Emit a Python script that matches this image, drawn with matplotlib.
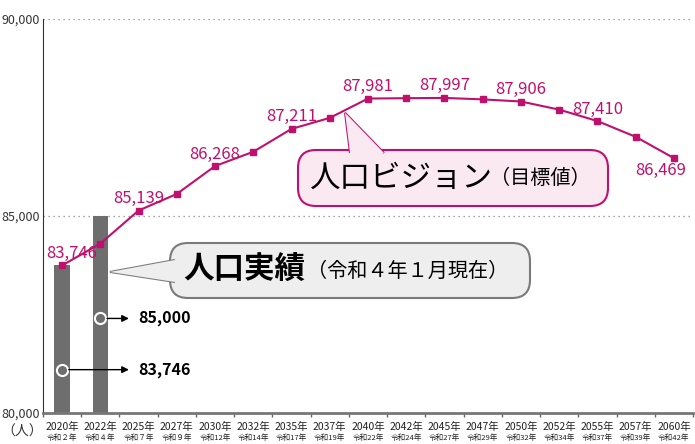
import numpy as np
import matplotlib.pyplot as plt
from matplotlib.patches import FancyBboxPatch, Polygon
from matplotlib.transforms import Affine2D

plt.rcParams['font.family'] = ['Noto Sans CJK JP', 'DejaVu Sans']

# data
years = ["2020年", "2022年", "2025年", "2027年", "2030年", "2032年", "2035年", "2037年", "2040年",
         "2042年", "2045年", "2047年", "2050年", "2052年", "2055年", "2057年", "2060年"]
reiwa = ["令和２年", "令和４年", "令和７年", "令和９年", "令和12年", "令和14年", "令和17年", "令和19年",
         "令和22年", "令和24年", "令和27年", "令和29年", "令和32年", "令和34年", "令和37年", "令和39年", "令和42年"]
vision = [83746, 84300, 85139, 85560, 86268, 86630, 87211, 87490, 87981,
          87990, 87997, 87960, 87906, 87700, 87410, 87010, 86469]
labeled = [0, 2, 4, 6, 8, 10, 12, 14, 16]
actual = [83746, 85000]

W, H = 695, 444
MAG = "#c0106e"

fig = plt.figure(figsize=(W / 100, H / 100), dpi=100)
ax = fig.add_axes([43 / W, 31 / H, 650 / W, 394 / H])
x = np.arange(len(years))

ax.bar(x[:2], actual, width=0.4, color="#6e6e6e", zorder=2)
ax.plot(x, vision, color=MAG, lw=1.5, marker="s", ms=4.5, zorder=3)

for i in labeled:
    if i == 16:
        ax.text(x[i] - 0.35, vision[i] - 90, f"{vision[i]:,}", color=MAG, fontsize=12,
                ha="center", va="top", zorder=4)
    else:
        dx = 0.25 if i == 0 else 0
        ax.text(x[i] + dx, vision[i] + 90, f"{vision[i]:,}", color=MAG, fontsize=12,
                ha="center", va="bottom", zorder=4)

ax.set_xlim(-0.5, len(years) - 0.5)
ax.set_ylim(80000, 90000)
ax.set_yticks([80000, 85000, 90000])
ax.set_yticklabels([f"{v:,}" for v in [80000, 85000, 90000]], fontsize=9, color="#333333")
ax.tick_params(axis="y", length=0, pad=2)
for v in [85000, 90000]:
    ax.axhline(v, color="#888888", lw=0.9, ls=(0, (1, 3)), zorder=1)

ax.set_xticks(np.arange(len(years) + 1) - 0.5)
ax.set_xticklabels([])
ax.tick_params(axis="x", length=3, width=1, color="#666666")
for s in ["top", "right"]:
    ax.spines[s].set_visible(False)
ax.spines["left"].set_color("#333333")
ax.spines["bottom"].set_color("#777777")
ax.spines["bottom"].set_linewidth(2)

for i in range(len(years)):
    ax.text(x[i], -0.035, years[i], transform=ax.get_xaxis_transform(), ha="center", va="center",
            fontsize=7.5, color="#222222")
    ax.text(x[i], -0.064, reiwa[i], transform=ax.get_xaxis_transform(), ha="center", va="center",
            fontsize=5.5, color="#222222")
fig.text(22 / W, 1 - 432 / H, "（人）", ha="center", va="center", fontsize=10, color="#333333")

# circles + arrows for actual values
for i, v in enumerate(actual):
    cy = 81100 if i == 0 else 82400
    ax.plot(x[i], cy, "o", ms=8, mfc="#6e6e6e", mec="white", mew=1.5, zorder=5)
    ax.annotate("", xy=(1.82, cy), xytext=(x[i] + 0.1, cy),
                arrowprops=dict(arrowstyle="-|>", color="black", lw=1, mutation_scale=10), zorder=5)
    ax.text(1.98, cy, f"{v:,}", fontsize=11.5, fontweight="bold", ha="left", va="center")

# callouts in pixel coordinates (origin top-left)
px = Affine2D().scale(1, -1).translate(0, H)


def callout(x0, y0, x1, y1, base, tip, fc, ec):
    box = FancyBboxPatch((x0, y0), x1 - x0, y1 - y0, boxstyle="round,pad=0,rounding_size=18",
                         fc=fc, ec=ec, lw=1.5, transform=px, zorder=6)
    fig.add_artist(box)
    tri = Polygon([base[0], tip, base[1]], closed=False, fc=fc, ec=ec, lw=1.5,
                  transform=px, zorder=7)
    fig.add_artist(tri)
    cover = Polygon([base[0], tip, base[1]], closed=True, fc=fc, ec="none",
                    transform=px, zorder=8)
    fig.add_artist(cover)


tx, ty = ax.transData.transform((1.25, 83580))
callout(170, 243, 530, 298, [(175, 260), (175, 282)], (tx, H - ty), "#eeeeee", "#7a7a7a")
tx, ty = ax.transData.transform((7.4, 87620))
callout(298, 150, 608, 206, [(350, 153), (384, 153)], (tx, H - ty), "#fbe9f1", MAG)

fig.text(183 / W, 1 - 270 / H, "人口実績", fontsize=22, fontweight="bold", ha="left", va="center", zorder=9)
fig.text(307 / W, 1 - 271 / H, "（令和４年１月現在）", fontsize=14.5, ha="left", va="center", zorder=9)
fig.text(310 / W, 1 - 178 / H, "人口ビジョン", fontsize=22, ha="left", va="center", zorder=9)
fig.text(490 / W, 1 - 179 / H, "（目標値）", fontsize=14.5, ha="left", va="center", zorder=9)

fig.savefig("out.png", dpi=100)
